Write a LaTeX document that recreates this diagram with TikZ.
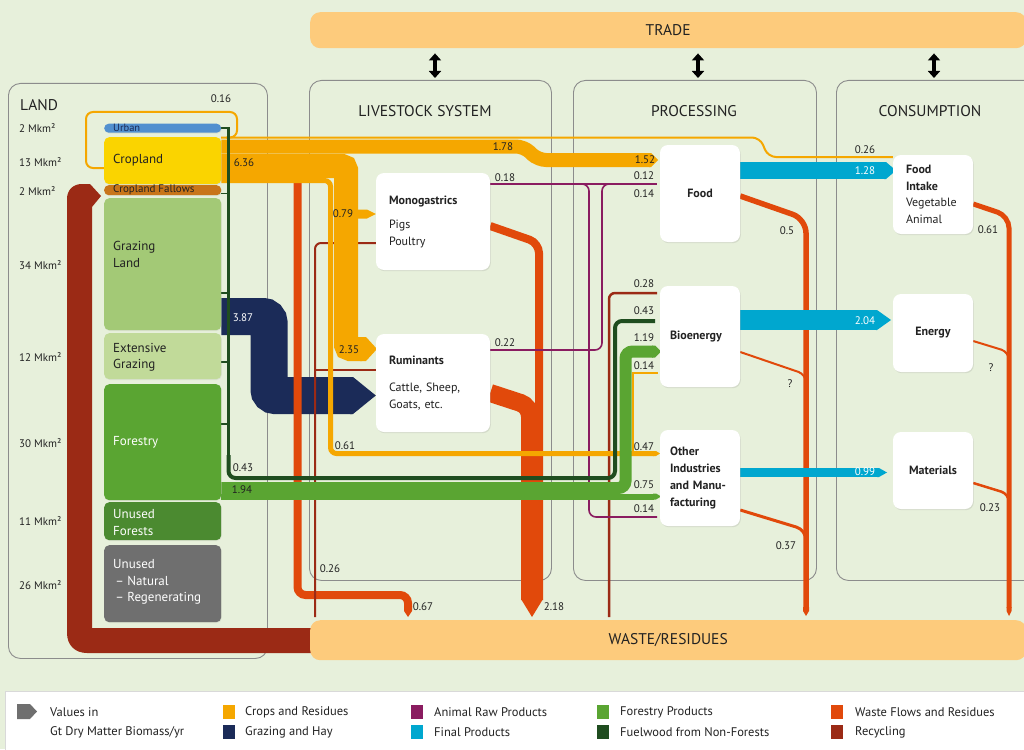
\documentclass[tikz,border=0pt]{standalone}
\usepackage{fontspec}
\setmainfont{PT Sans}
\usetikzlibrary{arrows.meta,shadows}

\definecolor{bg}{HTML}{E7F0DB}
\definecolor{panelc}{HTML}{8C8C8C}
\definecolor{barc}{HTML}{FDCB7C}
\definecolor{txt}{HTML}{222222}
\definecolor{crops}{HTML}{F5A700}
\definecolor{cropland}{HTML}{FAD400}
\definecolor{fallow}{HTML}{C8751A}
\definecolor{urbanc}{HTML}{5290CF}
\definecolor{grazland}{HTML}{A3C976}
\definecolor{extgraz}{HTML}{C1DA99}
\definecolor{forestc}{HTML}{5AA532}
\definecolor{unforest}{HTML}{4B8A30}
\definecolor{unusedc}{HTML}{6F6F6F}
\definecolor{navy}{HTML}{1B2B58}
\definecolor{purp}{HTML}{8A1C60}
\definecolor{cyanc}{HTML}{00A7CF}
\definecolor{fuel}{HTML}{1F4D1F}
\definecolor{waste}{HTML}{E1490B}
\definecolor{recyc}{HTML}{9B2A15}

\pgfdeclarelayer{back}
\pgfdeclarelayer{flow}
\pgfsetlayers{back,flow,main}

% arrow heads of the flow bands: colour, x start, y centre, half height, x tip, head length
\newcommand{\rtip}[6]{\fill[#1] (#2,{#3-#4}) -- ({#5-#6},{#3-#4}) -- (#5,#3) -- ({#5-#6},{#3+#4}) -- (#2,{#3+#4}) -- cycle;}
% downward heads: colour, y start, x centre, half width, y tip, head length
\newcommand{\dtip}[6]{\fill[#1] ({#3-#4},#2) -- ({#3-#4},{#5-#6}) -- (#3,#5) -- ({#3+#4},{#5-#6}) -- ({#3+#4},#2) -- cycle;}

\begin{document}
\begin{tikzpicture}[x=1pt,y=-1pt,
  lab/.style={font=\fontsize{11}{12}\selectfont, text=txt, inner sep=0pt},
  wlab/.style={lab, text=white},
  sbox/.style={fill=white, rounded corners=8pt, inner xsep=13pt, inner ysep=0pt, align=left, text=txt,
    font=\fontsize{12}{16.5}\selectfont, drop shadow={shadow xshift=0.8pt, shadow yshift=-1.2pt, opacity=0.18}},
  lbox/.style={anchor=north west, minimum width=117pt, inner sep=0pt, rounded corners=5pt,
    drop shadow={shadow xshift=0.6pt, shadow yshift=-0.8pt, opacity=0.12}},
  ltxt/.style={anchor=west, align=left, inner sep=0pt, font=\fontsize{13}{16.5}\selectfont, text=txt},
  mk/.style={anchor=west, inner sep=0pt, font=\fontsize{11}{12}\selectfont, text=txt},
  panel/.style={draw=panelc, line width=0.9pt, rounded corners=12pt, anchor=north west, inner sep=0pt},
  ptitle/.style={font=\fontsize{15.5}{18}\selectfont, text=txt, inner sep=0pt},
  bar/.style={fill=barc, rounded corners=10pt, anchor=north west, inner sep=0pt, font=\fontsize{15.5}{18}\selectfont, text=txt},
  dbl/.style={line width=4pt, {Triangle[width=12pt,length=7pt]}-{Triangle[width=12pt,length=7pt]}},
  sw/.style={anchor=north west, minimum width=12pt, minimum height=14pt, inner sep=0pt},
  legtxt/.style={anchor=west, inner sep=0pt, font=\fontsize{12.5}{15}\selectfont, text=txt}
]
\useasboundingbox (0,0) rectangle (1024,749);

% ---------------- background and panels ----------------
\begin{pgfonlayer}{back}
\fill[bg] (0,0) rectangle (1024,749);
\node[panel, minimum width=259pt, minimum height=575pt] (landpanel) at (8,83) {};
\node[panel, minimum width=242pt, minimum height=500pt] (livepanel) at (309,80) {};
\node[panel, minimum width=243pt, minimum height=500pt] (procpanel) at (573,80) {};
\node[panel, minimum width=200pt, minimum height=500pt] (conspanel) at (836,80) {};
\end{pgfonlayer}

\node[ptitle, anchor=west] (landtitle) at (20,105) {LAND};
\node[ptitle] (livetitle) at (425,111) {LIVESTOCK SYSTEM};
\node[ptitle] (proctitle) at (694,111) {PROCESSING};
\node[ptitle] (constitle) at (930,111) {CONSUMPTION};

% ---------------- land use ----------------
\node[lbox, fill=urbanc, minimum height=9pt, rounded corners=4.5pt] (urban) at (104,123.5) {};
\node[lbox, fill=cropland, minimum height=47pt] (cropland) at (104,137) {};
\node[lbox, fill=fallow, minimum height=10pt, rounded corners=4.5pt] (fallow) at (104,185) {};
\node[lbox, fill=grazland, minimum height=132pt] (grazing) at (104,198) {};
\node[lbox, fill=extgraz, minimum height=46pt] (extgrazing) at (104,333) {};
\node[lbox, fill=forestc, minimum height=116pt] (forestry) at (104,384) {};
\node[lbox, fill=unforest, minimum height=38pt] (unforests) at (104,502) {};
\node[lbox, fill=unusedc, minimum height=77pt] (unused) at (104,545) {};

\node[ltxt, font=\fontsize{10.5}{12}\selectfont, text=navy] (urbant) at (113,128) {Urban};
\node[ltxt] (croplandt) at (113,160) {Cropland};
\node[ltxt, font=\fontsize{11}{12}\selectfont] (fallowt) at (113,190) {Cropland Fallows};
\node[ltxt] (grazingt) at (113,254.5) {Grazing\\Land};
\node[ltxt] (extgrazingt) at (113,357.5) {Extensive\\Grazing};
\node[ltxt, text=white] (forestryt) at (113,442) {Forestry};
\node[ltxt, text=white] (unforestst) at (113,522.5) {Unused\\Forests};
\node[ltxt, text=white] (unusedt) at (113,582) {Unused\\\,– Natural\\\,– Regenerating};

\node[mk] (mk1) at (19,128) {2 Mkm²};
\node[mk] (mk2) at (19,162) {13 Mkm²};
\node[mk] (mk3) at (19,191) {2 Mkm²};
\node[mk] (mk4) at (19,265) {34 Mkm²};
\node[mk] (mk5) at (19,357) {12 Mkm²};
\node[mk] (mk6) at (19,443) {30 Mkm²};
\node[mk] (mk7) at (19,521) {11 Mkm²};
\node[mk] (mk8) at (19,585) {26 Mkm²};

% ---------------- system boxes ----------------
\node[sbox, minimum width=114pt, minimum height=97pt, text width=88pt] (mono) at (433,221.5)
  {\textbf{Monogastrics}\\[8pt]Pigs\\Poultry};
\node[sbox, minimum width=114pt, minimum height=98pt, text width=88pt] (rumi) at (433,383)
  {\textbf{Ruminants}\\[11pt]Cattle, Sheep,\\Goats, etc.};
\node[sbox, minimum width=80pt, minimum height=97pt, text width=60pt, inner xsep=10pt, align=center] (food) at (700,193.5)
  {\textbf{Food}};
\node[sbox, minimum width=80pt, minimum height=101pt, text width=60pt, inner xsep=10pt] (bioe) at (700,336.5)
  {\textbf{Bioenergy}};
\node[sbox, minimum width=80pt, minimum height=96pt, text width=60pt, inner xsep=10pt, font=\fontsize{12}{17}\selectfont] (other) at (700,478)
  {\textbf{Other}\\\textbf{Industries}\\\textbf{and Manu-}\\\textbf{facturing}};
\node[sbox, minimum width=80pt, minimum height=79pt, text width=54pt] (intake) at (933,194.5)
  {\textbf{Food}\\\textbf{Intake}\\Vegetable\\Animal};
\node[sbox, minimum width=80pt, minimum height=78pt, text width=60pt, inner xsep=10pt, align=center] (energy) at (933,333)
  {\textbf{Energy}};
\node[sbox, minimum width=80pt, minimum height=77pt, text width=60pt, inner xsep=10pt, align=center] (mater) at (933,470.5)
  {\textbf{Materials}};

% ---------------- trade and waste bars ----------------
\node[bar, minimum width=716pt, minimum height=36pt] (trade) at (310,12) {TRADE};
\node[bar, minimum width=716pt, minimum height=40pt] (wastebar) at (310,620) {WASTE/RESIDUES};

\draw[dbl] (trade.south -| 435,0) ++(0,5) -- (435,78);
\draw[dbl] (trade.south -| 698,0) ++(0,5) -- (698,78);
\draw[dbl] (trade.south -| 934,0) ++(0,5) -- (934,78);

% ---------------- flows ----------------
\begin{pgfonlayer}{flow}
% recycling back to the land
\fill[recyc] (330,628) -- (92,628) -- (92,207) -- (101,196) -- (90,184) -- (82,184)
  .. controls (73,184) and (67,190) .. (67,199) -- (67,633)
  .. controls (67,645) and (75,653) .. (87,653) -- (330,653) -- cycle;

% grazing and hay
\draw[navy, line width=37pt, rounded corners=6pt] (grazing.east |- 0,316.5) -- (269,316.5) -- (269,395.5) -- (352,395.5);
\fill[navy] (350,377) -- (353,377) -- (rumi.west |- 0,395.5) -- (353,414) -- (350,414) -- cycle;

% waste flows
\draw[waste, line width=1.3pt] (286,176) -- (286,183) (288.5,176) -- (288.5,183) (291,176) -- (291,183);
\draw[waste, line width=8pt, rounded corners=8pt] (297.5,176) -- (297.5,595) -- (408,595) -- (408,607);
\dtip{waste}{606}{408}{4}{617}{6}
\draw[waste, line width=8pt, rounded corners=10pt] (mono.east |- 0,226) -- (539,243) -- (539,600);
\draw[waste, line width=18pt, rounded corners=10pt] (rumi.east |- 0,393) -- (530,406) -- (530,600);
\fill[waste] (521,599) -- (543,599) -- (532,617) -- cycle;
\draw[waste, line width=5.5pt, rounded corners=14pt] (food.east |- 0,196) -- (806,219) -- (806,608);
\draw[waste, line width=2pt, rounded corners=8pt] (bioe.east |- 0,352) -- (806,374.5) -- (806,392);
\draw[waste, line width=3pt, rounded corners=10pt] (other.east |- 0,510) -- (806,530) -- (806,552);
\dtip{waste}{607}{806}{3}{616}{5}
\draw[waste, line width=5pt, rounded corners=12pt] (intake.east |- 0,204) -- (1009,216) -- (1009,608);
\draw[waste, line width=2pt, rounded corners=8pt] (energy.east |- 0,341) -- (1009,352) -- (1009,372);
\draw[waste, line width=2.5pt, rounded corners=8pt] (mater.east |- 0,483) -- (1009,494) -- (1009,512);
\dtip{waste}{607}{1009}{2.5}{616}{5}

% recycling to livestock and bioenergy
\draw[recyc, line width=2pt, rounded corners=6pt] (315,617) -- (315,243) -- (mono.west |- 0,243);
\draw[recyc, line width=2pt] (315,370) -- (rumi.west |- 0,370);
\draw[recyc, line width=2.5pt, rounded corners=6pt] (609,617) -- (609,293) -- (657,293);

% animal raw products
\draw[purp, line width=2pt] (mono.east |- 0,184) -- (657,184);
\draw[purp, line width=1.6pt, rounded corners=7pt] (579,184) -- (589,184) -- (589,517) -- (657,517);
\draw[purp, line width=1.6pt, rounded corners=7pt] (rumi.east |- 0,350) -- (602,350) -- (602,184) -- (612,184);

% crops and residues
\draw[crops, line width=2pt, rounded corners=7pt] (cropland.west |- 0,168) -- (86,168) -- (86,112) -- (237,112) -- (237,137.5) -- (226,137.5);
\draw[crops, line width=2pt, rounded corners=8pt] (221,137.5) -- (760,137.5) -- (768,157) -- (intake.west |- 0,157);
\draw[crops, line width=14pt, rounded corners=8pt] (cropland.east |- 0,146.5) -- (524,146.5) -- (538,160) -- (650,160);
\rtip{crops}{649}{160}{7}{658}{7}
\draw[crops, line width=24pt, rounded corners=4pt] (cropland.east |- 0,166) -- (346,166) -- (346,349) -- (362,349);
\rtip{crops}{360}{349}{12}{377}{11}
\fill[crops] (357,209.5) -- (367,209.5) -- (mono.west |- 0,214) -- (367,218.5) -- (357,218.5) -- cycle;
\draw[crops, line width=5pt, rounded corners=6pt] (cropland.east |- 0,180.5) -- (330.5,180.5) -- (330.5,453.5) -- (654,453.5);
\rtip{crops}{653}{453.5}{2.5}{660}{4}
\draw[crops, line width=1.2pt] (633,453.5) -- (633,373) -- (658,373);

% fuelwood from non-forests
\draw[fuel, line width=2.5pt] (urban.east |- 0,128) -- (228.5,128) -- (228.5,470);
\draw[fuel, line width=1.5pt] (fallow.east |- 0,193.5) -- (228,193.5) (grazing.east |- 0,293) -- (228,293)
  (extgrazing.east |- 0,362) -- (228,362) (forestry.east |- 0,424) -- (228,424);
\draw[fuel, line width=4pt, rounded corners=7pt] (228.5,455) -- (228.5,478) -- (615,478) -- (615,321) -- (655,321);

% forestry products
\draw[forestc, line width=12pt, rounded corners=7pt] (forestry.east |- 0,488) -- (625.5,488) -- (625.5,351.5) -- (653,351.5);
\rtip{forestc}{652}{351.5}{6}{661}{6}
\draw[forestc, line width=6pt] (forestry.east |- 0,496.5) -- (654,496.5);
\rtip{forestc}{653}{496.5}{3}{661}{5}

% final products
\draw[cyanc, line width=17pt] (food.east |- 0,170.5) -- (885,170.5);
\rtip{cyanc}{884}{170.5}{8.5}{896}{10}
\draw[cyanc, line width=20pt] (bioe.east |- 0,320) -- (877,320);
\rtip{cyanc}{876}{320}{10}{891}{14}
\draw[cyanc, line width=9pt] (other.east |- 0,472.5) -- (878,472.5);
\rtip{cyanc}{877}{472.5}{4.5}{887}{8}
\end{pgfonlayer}

% ---------------- flow values ----------------
\node[lab] (v1) at (221,99) {0.16};
\node[lab] (v2) at (244,163) {6.36};
\node[wlab] (v3) at (243,318) {3.87};
\node[lab] (v4) at (243,468) {0.43};
\node[lab] (v5) at (242,490) {1.94};
\node[lab] (v6) at (343,214) {0.79};
\node[lab] (v7) at (349,350) {2.35};
\node[lab] (v8) at (345,446) {0.61};
\node[lab] (v9) at (330,569) {0.26};
\node[lab] (v10) at (423,607) {0.67};
\node[lab] (v11) at (554,607) {2.18};
\node[lab] (v12) at (503,147) {1.78};
\node[lab] (v13) at (505,178) {0.18};
\node[lab] (v14) at (505,343) {0.22};
\node[lab] (v15) at (645,160) {1.52};
\node[lab] (v16) at (644,176) {0.12};
\node[lab] (v17) at (644,194) {0.14};
\node[lab] (v18) at (644,284) {0.28};
\node[lab] (v19) at (644,311) {0.43};
\node[lab] (v20) at (644,338) {1.19};
\node[lab] (v21) at (644,366) {0.14};
\node[lab] (v22) at (644,447) {0.47};
\node[lab] (v23) at (644,485) {0.75};
\node[lab] (v24) at (644,509) {0.14};
\node[lab] (v25) at (787,231) {0.5};
\node[lab] (v26) at (790,384) {?};
\node[lab] (v27) at (786,546) {0.37};
\node[lab] (v28) at (865,150) {0.26};
\node[wlab] (v29) at (865,171) {1.28};
\node[wlab] (v30) at (865,321) {2.04};
\node[wlab] (v31) at (865,472) {0.99};
\node[lab] (v32) at (988,230) {0.61};
\node[lab] (v33) at (991,368) {?};
\node[lab] (v34) at (990,508) {0.23};

% ---------------- legend ----------------
\node[anchor=north west, fill=white, draw=black!15, line width=0.8pt, minimum width=1030pt, minimum height=70pt, inner sep=0pt] (legend) at (5,691) {};
\fill[unusedc] (17,704) -- (30,704) -- (37,711.5) -- (30,719) -- (17,719) -- cycle;
\node[legtxt] (lv1) at (50,712) {Values in};
\node[legtxt] (lv2) at (50,732) {Gt Dry Matter Biomass/yr};
\node[sw, fill=crops] (s1) at (223,705) {};
\node[sw, fill=navy] (s2) at (223,725) {};
\node[sw, fill=purp] (s3) at (411,705) {};
\node[sw, fill=cyanc] (s4) at (411,725) {};
\node[sw, fill=forestc] (s5) at (597,705) {};
\node[sw, fill=fuel] (s6) at (597,725) {};
\node[sw, fill=waste] (s7) at (831,705) {};
\node[sw, fill=recyc] (s8) at (831,725) {};
\node[legtxt] (t1) at (245,712) {Crops and Residues};
\node[legtxt] (t2) at (245,732) {Grazing and Hay};
\node[legtxt] (t3) at (434,712) {Animal Raw Products};
\node[legtxt] (t4) at (434,732) {Final Products};
\node[legtxt] (t5) at (620,712) {Forestry Products};
\node[legtxt] (t6) at (620,732) {Fuelwood from Non-Forests};
\node[legtxt] (t7) at (855,712) {Waste Flows and Residues};
\node[legtxt] (t8) at (855,732) {Recycling};
\end{tikzpicture}
\end{document}
